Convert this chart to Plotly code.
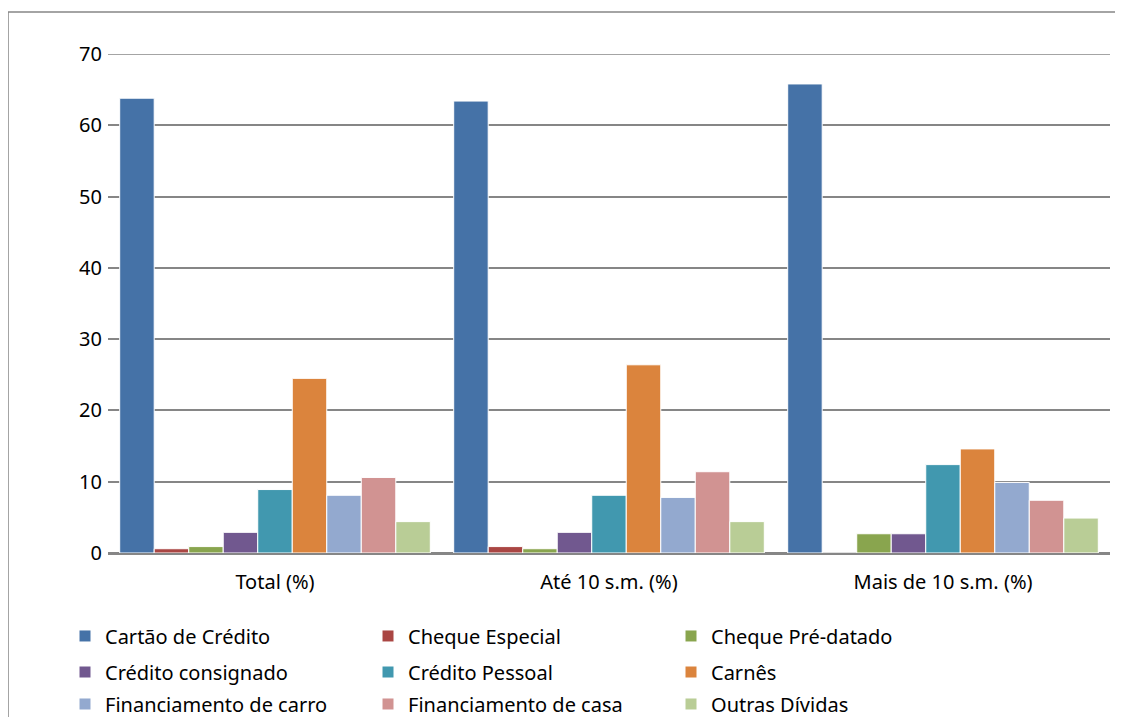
import plotly.graph_objects as go

categories = ["Total (%)", "Até 10 s.m. (%)", "Mais de 10 s.m. (%)"]
series_names = ["Cartão de Crédito", "Cheque Especial", "Cheque Pré-datado",
                "Crédito consignado", "Crédito Pessoal", "Carnês",
                "Financiamento de carro", "Financiamento de casa", "Outras Dívidas"]
cartao = [63.8, 63.4, 65.8]
cheque_especial = [0.6, 0.9, 0.0]
cheque_predatado = [0.9, 0.6, 2.7]
consignado = [2.9, 2.9, 2.7]
pessoal = [8.9, 8.1, 12.4]
carnes = [24.5, 26.4, 14.6]
fin_carro = [8.1, 7.8, 9.9]
fin_casa = [10.6, 11.4, 7.4]
outras = [4.4, 4.4, 4.9]
y_ticks = [0, 10, 20, 30, 40, 50, 60, 70]

values = [cartao, cheque_especial, cheque_predatado, consignado, pessoal,
          carnes, fin_carro, fin_casa, outras]
colors = ["#4572A7", "#AA4643", "#89A54E", "#71588F", "#4198AF",
          "#DB843D", "#93A9CF", "#D19392", "#B9CD96"]

FONT = "Noto Sans"
FS = 20
GRID = "#868686"
legend_ids = ["legend", "legend2", "legend3"]

fig = go.Figure()
for i, (name, vals, col) in enumerate(zip(series_names, values, colors)):
    fig.add_trace(go.Bar(x=categories, y=vals, name=name,
                         legend=legend_ids[i // 3],
                         marker=dict(color=col, line=dict(color="white", width=1))))

def leg(y):
    return dict(orientation="h", x=-0.0429, y=y, xanchor="left", yanchor="middle",
                entrywidth=258, entrywidthmode="pixels", bgcolor="rgba(0,0,0,0)",
                font=dict(family=FONT, size=FS, color="black"),
                traceorder="normal", itemclick=False, itemdoubleclick=False)

fig.update_layout(
    width=1123, height=717,
    margin=dict(l=100, r=21, t=46, b=172, autoexpand=False),
    paper_bgcolor="white", plot_bgcolor="white",
    barmode="group", bargap=0.07, bargroupgap=0,
    font=dict(family=FONT, size=FS, color="black"),
    showlegend=True,
    legend=leg(-0.1663),
    legend2=leg(-0.2385),
    legend3=leg(-0.3026),
    xaxis=dict(showgrid=False, ticks="", showline=True, linecolor=GRID,
               linewidth=1.5, tickfont=dict(size=FS), ticklabelstandoff=10),
    yaxis=dict(range=[0, 70], tickvals=y_ticks, showgrid=True, gridcolor=GRID,
               gridwidth=1.5, zeroline=True, zerolinecolor=GRID, zerolinewidth=1.5,
               showline=False, ticks="", tickfont=dict(size=FS), ticklabelstandoff=5),
    shapes=[
        dict(type="line", xref="paper", yref="y", x0=0, x1=1,
             y0=y_ticks[-1], y1=y_ticks[-1], line=dict(color=GRID, width=1.5)),
        dict(type="line", xref="paper", yref="paper", x0=-0.0998, x1=1.03,
             y0=1.0842, y1=1.0842, line=dict(color=GRID, width=1.5)),
        dict(type="line", xref="paper", yref="paper", x0=-0.0998, x1=-0.0998,
             y0=1.0842, y1=-0.4, line=dict(color=GRID, width=1.5)),
    ],
)
fig.write_html("out.html")
